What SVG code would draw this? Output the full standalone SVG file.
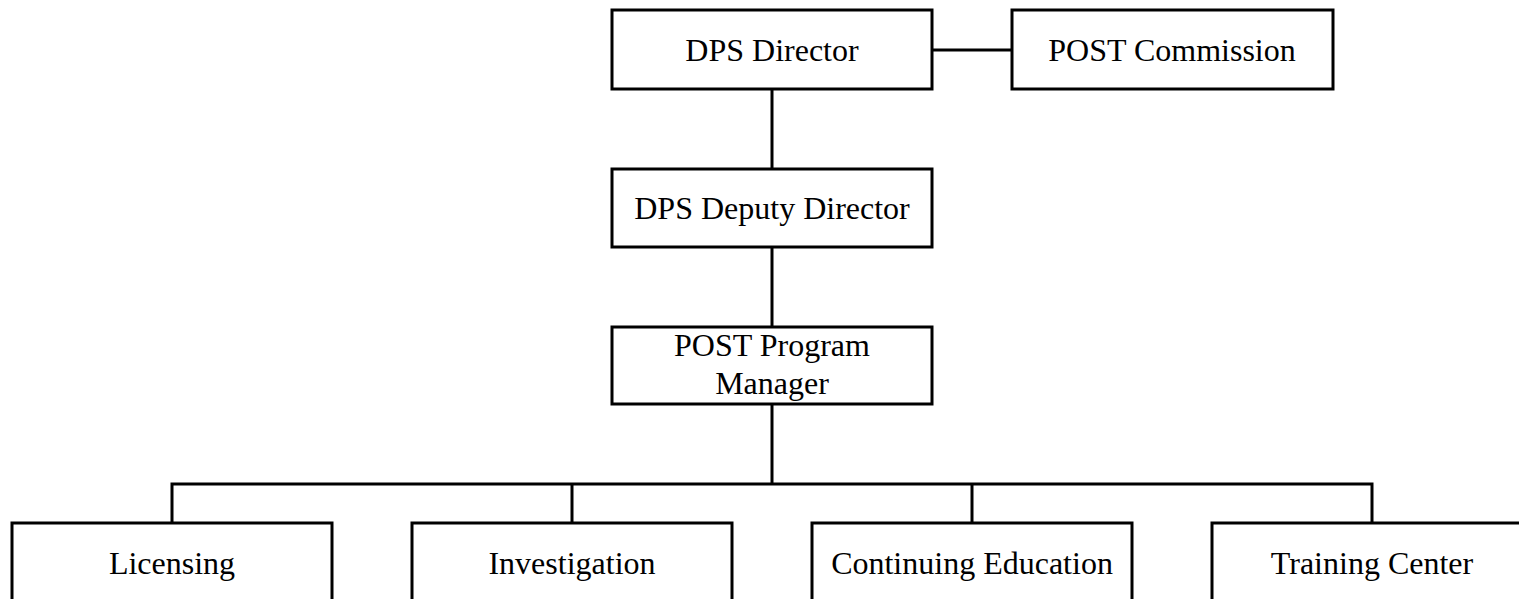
<svg xmlns="http://www.w3.org/2000/svg" width="1519" height="599" viewBox="0 0 1519 599">
<style>
.box{fill:#fff;stroke:#000;stroke-width:3}
.ln{fill:none;stroke:#000;stroke-width:3}
.t{font-family:"Liberation Serif","Times New Roman",serif;font-size:32px;fill:#000;text-anchor:middle}
</style>
<rect width="1519" height="599" fill="#fff"/>
<g id="connectors">
<path class="ln" d="M932 50 H1012"/>
<path class="ln" d="M772 89 V169"/>
<path class="ln" d="M772 247 V327"/>
<path class="ln" d="M772 404 V484"/>
<path class="ln" d="M172 523 V484 H1372 V523"/>
<path class="ln" d="M572 484 V523"/>
<path class="ln" d="M972 484 V523"/>
</g>
<g id="dps-director"><rect class="box" x="612" y="10" width="320" height="79"/><text class="t" x="772" y="61">DPS Director</text></g>
<g id="post-commission"><rect class="box" x="1012" y="10" width="321" height="79"/><text class="t" x="1172" y="61">POST Commission</text></g>
<g id="dps-deputy-director"><rect class="box" x="612" y="169" width="320" height="78"/><text class="t" x="772" y="219">DPS Deputy Director</text></g>
<g id="post-program-manager"><rect class="box" x="612" y="327" width="320" height="77"/><text class="t" x="772" y="356">POST Program</text><text class="t" x="772" y="394">Manager</text></g>
<g id="licensing"><rect class="box" x="12" y="523" width="320" height="90"/><text class="t" x="172" y="574">Licensing</text></g>
<g id="investigation"><rect class="box" x="412" y="523" width="320" height="90"/><text class="t" x="572" y="574">Investigation</text></g>
<g id="continuing-education"><rect class="box" x="812" y="523" width="320" height="90"/><text class="t" x="972" y="574">Continuing Education</text></g>
<g id="training-center"><rect class="box" x="1212" y="523" width="320" height="90"/><text class="t" x="1372" y="574">Training Center</text></g>
</svg>
